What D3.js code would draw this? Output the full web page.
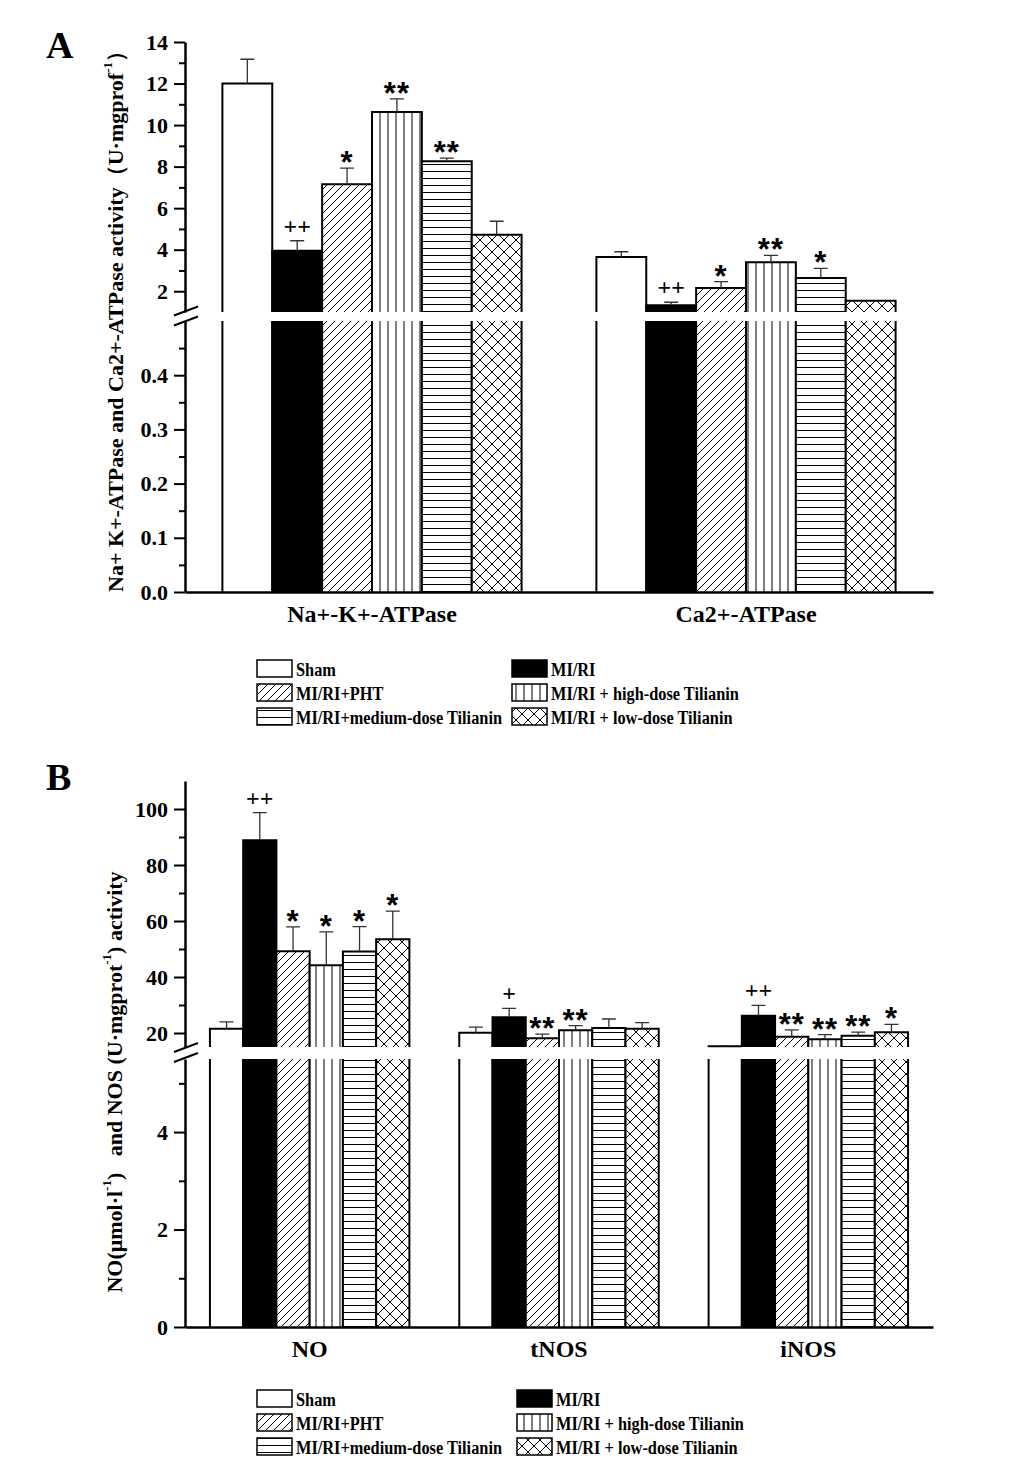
<!DOCTYPE html>
<html>
<head>
<meta charset="utf-8">
<script src="https://cdn.jsdelivr.net/npm/d3@7"></script>
<style>
  body { margin: 0; background: #fff; }
  svg { font-family: "Liberation Serif", "Times New Roman", serif; font-weight: bold; }
</style>
</head>
<body>
<script>
const groups = ["Sham", "MI/RI", "MI/RI+PHT", "MI/RI + high-dose Tilianin",
  "MI/RI+medium-dose Tilianin", "MI/RI + low-dose Tilianin"];

// panel A
const atpCategories = ["Na+-K+-ATPase", "Ca2+-ATPase"];
const atpMeans = [
  [12.0, 3.95, 7.15, 10.63, 8.26, 4.72],
  [3.65, 1.32, 2.16, 3.39, 2.64, 1.54]
];
const atpErrors = [
  [1.17, 0.48, 0.78, 0.63, 0.15, 0.65],
  [0.25, 0.15, 0.30, 0.34, 0.46, 0.0]
];
const atpSig = [
  ["", "++", "*", "**", "**", ""],
  ["", "++", "*", "**", "*", ""]
];
const atpUpperTicks = [2, 4, 6, 8, 10, 12, 14];
const atpUpperMinor = [3, 5, 7, 9, 11, 13];
const atpLowerTicks = [0, 0.1, 0.2, 0.3, 0.4];
const atpLowerMinor = [0.05, 0.15, 0.25, 0.35, 0.45];

// panel B
const nosCategories = ["NO", "tNOS", "iNOS"];
const nosMeans = [
  [21.5, 88.8, 49.2, 44.2, 49.1, 53.5],
  [20.1, 25.6, 18.1, 21.0, 21.8, 21.5],
  [15.3, 26.2, 18.7, 17.8, 19.0, 20.3]
];
const nosErrors = [
  [2.5, 9.9, 8.7, 11.9, 8.9, 10.0],
  [2.0, 3.2, 1.5, 1.6, 3.2, 2.2],
  [0.2, 3.7, 2.4, 1.6, 1.3, 2.8]
];
const nosSig = [
  ["", "++", "*", "*", "*", "*"],
  ["", "+", "**", "**", "", ""],
  ["", "++", "**", "**", "**", "*"]
];
const nosUpperTicks = [20, 40, 60, 80, 100];
const nosUpperMinor = [30, 50, 70, 90];
const nosLowerTicks = [0, 2, 4];
const nosLowerMinor = [1, 3, 5];

const svg = d3.select("body").append("svg").attr("width", 1033).attr("height", 1463);
const defs = svg.append("defs");

function pattern(id, w, h, d) {
  const p = defs.append("pattern").attr("id", id).attr("patternUnits", "userSpaceOnUse")
    .attr("width", w).attr("height", h);
  p.append("rect").attr("width", w).attr("height", h).attr("fill", "#fff");
  p.append("path").attr("d", d).attr("stroke", "#000").attr("stroke-width", 1).attr("fill", "none");
}
pattern("diag", 8, 8, "M0,8 L8,0 M-2,2 L2,-2 M6,10 L10,6");
pattern("vert", 8, 8, "M4,0 V8");
pattern("horiz", 8, 7, "M0,3.5 H8");
pattern("cross", 12, 12, "M-3,-3 L15,15 M-3,15 L15,-3");

const fills = ["#fff", "#000", "url(#diag)", "url(#vert)", "url(#horiz)", "url(#cross)"];

function drawPanel(p) {
  const g = svg.append("g");
  const x0 = d3.scaleBand().domain(p.cats).range([185, 933]).paddingInner(0.2).paddingOuter(0.1);
  const x1 = d3.scaleBand().domain(d3.range(groups.length)).range([0, x0.bandwidth()]);
  const yU = d3.scaleLinear().domain(p.upDomain).range(p.upRange);
  const yL = d3.scaleLinear().domain(p.lowDomain).range(p.lowRange);

  const rows = p.cats.flatMap((c, ci) => groups.map((name, gi) => ({
    c, gi, v: p.means[ci][gi], e: p.errs[ci][gi], s: p.sig[ci][gi]
  })));

  rows.forEach(d => {
    const bx = x0(d.c) + x1(d.gi), bw = x1.bandwidth();
    const lb = yL(0);
    const lt = yL(Math.min(d.v, p.lowDomain[1]));
    g.append("rect").attr("x", bx).attr("y", lt).attr("width", bw).attr("height", lb - lt)
      .attr("fill", fills[d.gi]);
    g.append("path").attr("d", `M${bx},${lt} V${lb} M${bx + bw},${lt} V${lb}`)
      .attr("stroke", "#000").attr("stroke-width", 2).attr("fill", "none");

    if (d.v > p.upDomain[0]) {
      const ub = yU(p.upDomain[0]), ut = yU(d.v);
      g.append("rect").attr("x", bx).attr("y", ut).attr("width", bw).attr("height", ub - ut)
        .attr("fill", fills[d.gi]);
      g.append("path").attr("d", `M${bx},${ub} V${ut} H${bx + bw} V${ub}`)
        .attr("stroke", "#000").attr("stroke-width", 2).attr("fill", "none");
    }

    const cx = bx + bw / 2;
    let top = yU(d.v);
    if (d.e > 0) {
      top = yU(d.v + d.e);
      g.append("path").attr("d", `M${cx},${yU(d.v)} V${top} M${cx - 7},${top} H${cx + 7}`)
        .attr("stroke", "#333").attr("stroke-width", 1.3).attr("fill", "none");
    }
    if (d.s) {
      const star = d.s.includes("*");
      g.append("text").attr("x", cx).attr("y", star ? top + 5 : top - 7)
        .attr("text-anchor", "middle")
        .style("font-family", star ? "'Liberation Sans', Arial, sans-serif" : null)
        .style("font-size", star ? "31px" : "24px")
        .style("letter-spacing", star ? "1px" : "0px")
        .text(d.s);
    }
  });

  // axes
  const styleAxis = sel => {
    sel.select(".domain").attr("stroke-width", 2.5);
    sel.selectAll(".tick line").attr("stroke-width", 2);
    sel.selectAll(".tick text").style("font-size", "22px").style("font-family", "'Liberation Serif', serif")
      .style("font-weight", "bold").attr("fill", "#000");
  };
  [[yU, p.upTicks, p.upMinor], [yL, p.lowTicks, p.lowMinor]].forEach(([sc, major, minor]) => {
    g.append("g").attr("transform", "translate(185,0)")
      .call(d3.axisLeft(sc).tickValues(major).tickSize(11).tickSizeOuter(0).tickPadding(6).tickFormat(p.fmt))
      .call(styleAxis);
    g.append("g").attr("transform", "translate(185,0)")
      .call(d3.axisLeft(sc).tickValues(minor).tickSize(6).tickFormat(""))
      .call(sel => sel.select(".domain").remove())
      .call(styleAxis);
  });

  // axis break marks
  const by = (p.upRange[0] + p.lowRange[1]) / 2;
  g.append("path")
    .attr("d", `M174,${by - 1} L198,${by - 10} M174,${by + 9} L198,${by}`)
    .attr("stroke", "#000").attr("stroke-width", 2);

  // x axis
  g.append("g").attr("transform", `translate(0,${yL(0)})`)
    .call(d3.axisBottom(x0).tickSize(0).tickSizeOuter(0).tickPadding(13))
    .call(sel => {
      sel.select(".domain").attr("stroke-width", 2.5);
      sel.selectAll(".tick text").style("font-size", "24px").style("font-family", "'Liberation Serif', serif")
        .style("font-weight", "bold").attr("fill", "#000");
    });

  // y title
  const t = g.append("text").attr("transform", `translate(${p.titleX},${p.titleY}) rotate(-90)`)
    .attr("text-anchor", "middle").attr("dominant-baseline", "central")
    .style("font-size", p.titleSize + "px").style("white-space", "pre");
  let prevSup = false;
  p.title.forEach(([s, sup]) => {
    const dy = sup ? -8 : (prevSup ? 8 : 0);
    t.append("tspan").attr("dy", dy).style("font-size", sup ? "13px" : null).text(s);
    prevSup = sup;
  });

  // panel letter
  g.append("text").attr("x", 46).attr("y", p.letterY).style("font-size", "38px").text(p.letter);

  // legend
  const leg = g.append("g");
  groups.forEach((name, i) => {
    const col = i % 2, row = Math.floor(i / 2);
    const lx = col ? p.legCol2 : 257, ly = p.legY + row * 24;
    leg.append("rect").attr("x", lx).attr("y", ly).attr("width", 35).attr("height", 17)
      .attr("fill", fills[i]).attr("stroke", "#000").attr("stroke-width", 1.5);
    leg.append("text").attr("transform", `translate(${lx + 39},${ly + 16}) scale(0.86,1)`)
      .style("font-size", "19px").text(name);
  });
}

drawPanel({
  cats: atpCategories, means: atpMeans, errs: atpErrors, sig: atpSig,
  upDomain: [1, 14], upRange: [312, 42], upTicks: atpUpperTicks, upMinor: atpUpperMinor,
  lowDomain: [0, 0.5], lowRange: [592, 321], lowTicks: atpLowerTicks, lowMinor: atpLowerMinor,
  fmt: v => v < 1 ? d3.format(".1f")(v) : d3.format("d")(v),
  title: [["Na+ K+-ATPase and Ca2+-ATPase activity（U·mgprof", false], ["-1", true], ["）", false]],
  titleX: 115, titleY: 316, titleSize: 22, letter: "A", letterY: 58, legY: 660, legCol2: 512
});

drawPanel({
  cats: nosCategories, means: nosMeans, errs: nosErrors, sig: nosSig,
  upDomain: [15, 110], upRange: [1047, 781], upTicks: nosUpperTicks, upMinor: nosUpperMinor,
  lowDomain: [0, 5.5], lowRange: [1327, 1059], lowTicks: nosLowerTicks, lowMinor: nosLowerMinor,
  fmt: d3.format("d"),
  title: [["NO(μmol·l", false], ["-1", true], [")   and NOS (U·mgprot", false], ["-1", true], [") activity", false]],
  titleX: 114, titleY: 1082, titleSize: 22, letter: "B", letterY: 790, legY: 1390, legCol2: 517
});
</script>
</body>
</html>
